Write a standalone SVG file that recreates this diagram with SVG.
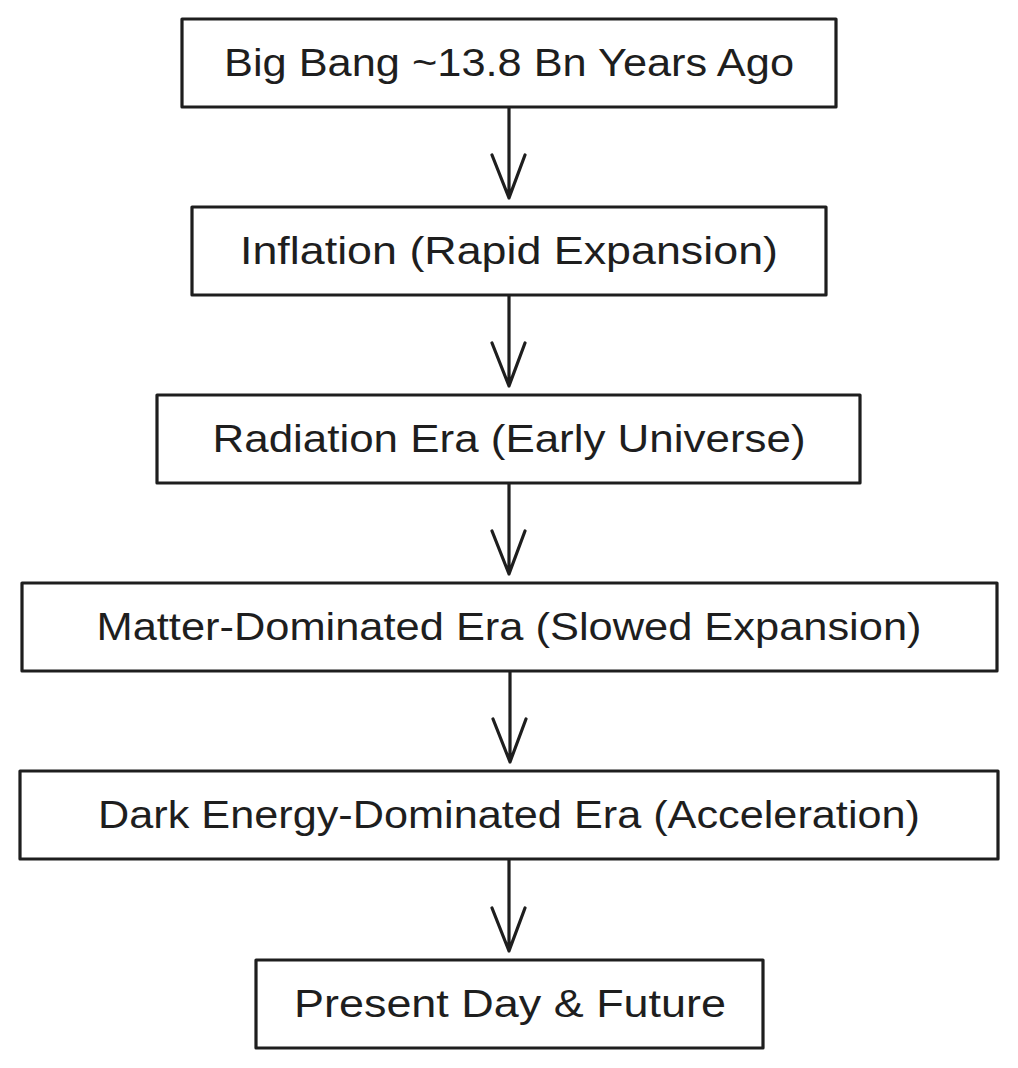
<svg xmlns="http://www.w3.org/2000/svg" width="1018" height="1068" viewBox="0 0 1018 1068">
<style>
.box{fill:#ffffff;stroke:#1e1e1e;stroke-width:3.2;stroke-linejoin:round}
.lbl{font-family:"Liberation Sans","DejaVu Sans",sans-serif;font-size:38px;fill:#1e1e1e;text-anchor:middle}
.edge{fill:none;stroke:#1e1e1e;stroke-width:3.2;stroke-linecap:round;stroke-linejoin:round}
</style>
<rect width="1018" height="1068" fill="#ffffff"/>
<g id="connectors">
<path class="edge" d="M509 108 L509 198 M492 155 L509 198 L525 155"/>
<path class="edge" d="M509 296 L509 386 M492 343 L509 386 L525 343"/>
<path class="edge" d="M509 484 L509 574 M492 531 L509 574 L525 531"/>
<path class="edge" d="M510 672 L510 762 M493 719 L510 762 L526 719"/>
<path class="edge" d="M509 860 L509 951 M492 908 L509 951 L525 908"/>
</g>
<g id="n1">
<rect class="box" x="182" y="19" width="654" height="88"/>
<text class="lbl" x="509" y="76" textLength="570" lengthAdjust="spacingAndGlyphs">Big Bang ~13.8 Bn Years Ago</text>
</g>
<g id="n2">
<rect class="box" x="192" y="207" width="634" height="88"/>
<text class="lbl" x="509" y="264" textLength="538" lengthAdjust="spacingAndGlyphs">Inflation (Rapid Expansion)</text>
</g>
<g id="n3">
<rect class="box" x="157" y="395" width="703" height="88"/>
<text class="lbl" x="509" y="452" textLength="593" lengthAdjust="spacingAndGlyphs">Radiation Era (Early Universe)</text>
</g>
<g id="n4">
<rect class="box" x="22" y="583" width="975" height="88"/>
<text class="lbl" x="509" y="640" textLength="825" lengthAdjust="spacingAndGlyphs">Matter-Dominated Era (Slowed Expansion)</text>
</g>
<g id="n5">
<rect class="box" x="20" y="771" width="978" height="88"/>
<text class="lbl" x="509" y="828" textLength="822" lengthAdjust="spacingAndGlyphs">Dark Energy-Dominated Era (Acceleration)</text>
</g>
<g id="n6">
<rect class="box" x="256" y="960" width="507" height="88"/>
<text class="lbl" x="510" y="1017" textLength="432" lengthAdjust="spacingAndGlyphs">Present Day &amp; Future</text>
</g>
</svg>
